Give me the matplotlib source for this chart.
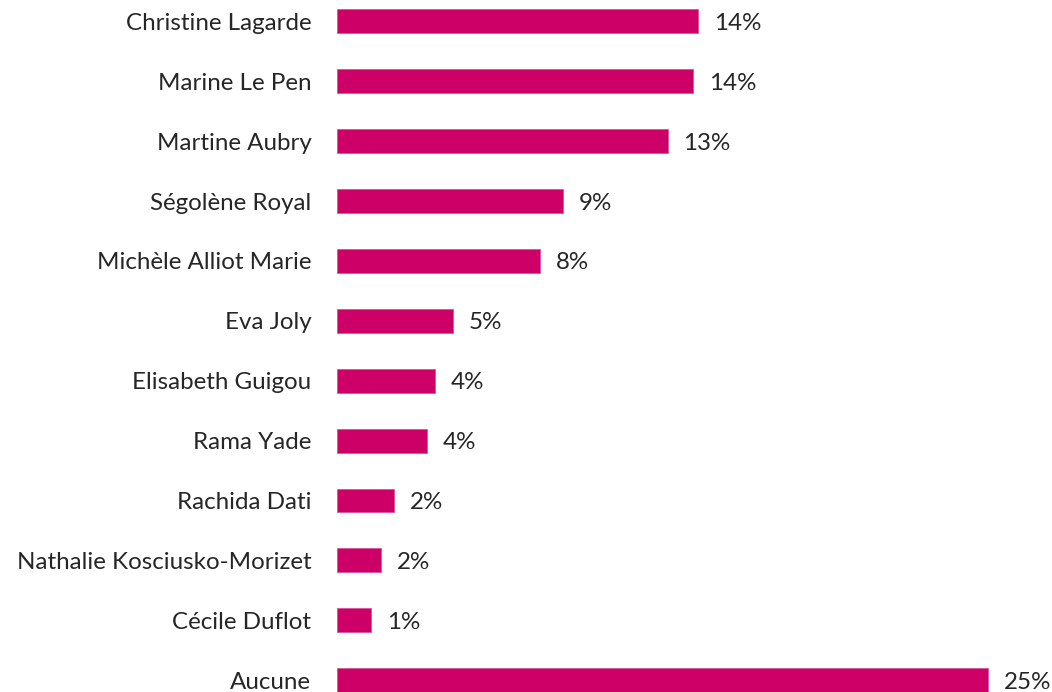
import matplotlib
matplotlib.use("Agg")
import matplotlib.pyplot as plt

# candidates, top to bottom
names = ["Christine Lagarde", "Marine Le Pen", "Martine Aubry", "Ségolène Royal",
         "Michèle Alliot Marie", "Eva Joly", "Elisabeth Guigou", "Rama Yade",
         "Rachida Dati", "Nathalie Kosciusko-Morizet", "Cécile Duflot", "Aucune"]
# values (labels are rounded)
values = [14.1, 13.9, 12.9, 8.8, 7.9, 4.5, 3.8, 3.5, 2.2, 1.7, 1.3, 25.4]
labels = ["14%", "14%", "13%", "9%", "8%", "5%", "4%", "4%", "2%", "2%", "1%", "25%"]

plt.rcParams['font.family'] = ['Lato', 'DejaVu Sans']

fig = plt.figure(figsize=(10.52, 6.92), dpi=100)
ax = fig.add_axes([337.3 / 1052, 0, 1 - 337.3 / 1052, 1])

pos = list(range(len(names)))
ax.barh(pos, values, height=0.40, color="#CC0066", edgecolor="#D9559A", linewidth=0.6)

for p, v, t in zip(pos, values, labels):
    ax.annotate(t, (v, p), xytext=(11.5, -1.5), textcoords="offset points",
                va="center", ha="left", fontsize=17.4, color="#262626")

ax.set_yticks(pos)
ax.set_yticklabels(names, fontsize=17.4, color="#262626")
ax.tick_params(axis="y", length=0, pad=18.7)
ax.set_xticks([])
ax.set_xlim(0, (1052 - 337.3) / 25.6)
ax.set_ylim(11.197, -0.356)
for s in ax.spines.values():
    s.set_visible(False)

fig.savefig("out.png", dpi=100)
